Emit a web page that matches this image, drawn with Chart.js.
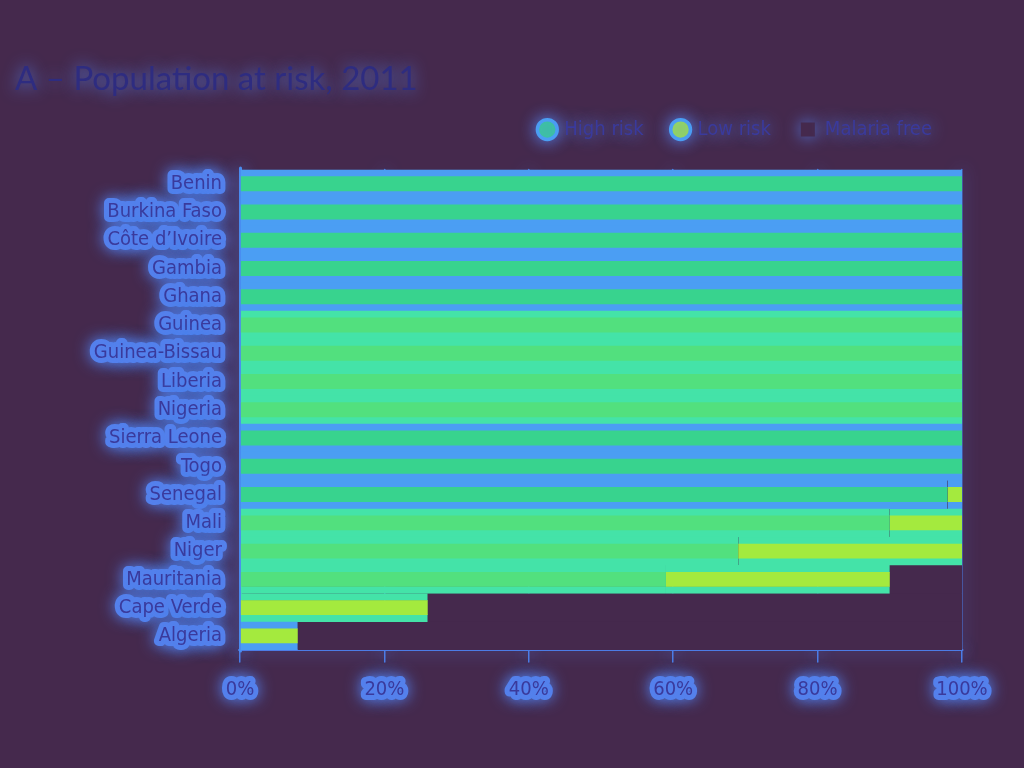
<!DOCTYPE html>
<html>
<head>
<meta charset="utf-8">
<script src="https://cdn.jsdelivr.net/npm/chart.js@4.4.1/dist/chart.umd.min.js"></script>
<style>
  html, body { margin: 0; padding: 0; background: #45294d; }
  #wrap { width: 1024px; height: 768px; }
</style>
</head>
<body>
<div id="wrap"><canvas id="myChart" width="1024" height="768"></canvas></div>
<script>
const countries = ['Benin', 'Burkina Faso', 'Côte d\u2019Ivoire', 'Gambia', 'Ghana', 'Guinea', 'Guinea-Bissau',
  'Liberia', 'Nigeria', 'Sierra Leone', 'Togo', 'Senegal', 'Mali', 'Niger', 'Mauritania', 'Cape Verde', 'Algeria'];
const highRisk    = [100, 100, 100, 100, 100, 100, 100, 100, 100, 100, 100, 98, 90, 69, 59, 0, 0];
const lowRisk     = [0, 0, 0, 0, 0, 0, 0, 0, 0, 0, 0, 2, 10, 31, 31, 26, 8];
const malariaFree = [0, 0, 0, 0, 0, 0, 0, 0, 0, 0, 0, 0, 0, 0, 10, 74, 92];
const xTicks = [0, 20, 40, 60, 80, 100];

// styles
const bg = '#45294d';
const glow = '#5581ec';
const ink = '#3a3a9c';
const narrow = '"Liberation Sans Narrow", "DejaVu Sans Condensed", sans-serif';
// blue stripes between bars on some rows, aqua on the others
const warmRows = [5, 6, 7, 8, 12, 13, 14, 15];
const gapColors = countries.map((c, i) => warmRows.includes(i) ? '#44e3a8' : '#4b9ef3');
const highColors = countries.map((c, i) => warmRows.includes(i) ? '#52e07e' : '#38d38e');

const ctx = document.getElementById('myChart');

const glowPlugin = {
  id: 'glow',
  afterInit: (chart) => {
    // leave some room between the legend and the plot
    const lg = chart.legend;
    const fit = lg.fit;
    lg.fit = function () { fit.call(this); this.height += 20; };
  },
  beforeDraw: (chart) => {
    const c = chart.ctx;
    c.save();
    c.fillStyle = bg;
    c.fillRect(0, 0, chart.width, chart.height);
    c.restore();
    c.shadowColor = glow;
    c.shadowBlur = 16;
    c.lineJoin = 'round';
    c.lineCap = 'round';
  },
  beforeDatasetsDraw: (chart) => {
    chart.ctx.shadowBlur = 0;
    chart.ctx.shadowColor = 'rgba(0,0,0,0)';
  }
};

const stripe = {top: 7, bottom: 7, left: 0, right: 0};

new Chart(ctx, {
  type: 'bar',
  data: {
    labels: countries,
    datasets: [
      {
        label: 'High risk',
        data: highRisk,
        backgroundColor: highColors,
        borderColor: gapColors,
        borderWidth: stripe,
        borderSkipped: false,
        pointStyle: 'circle'
      },
      {
        label: 'Low risk',
        data: lowRisk,
        backgroundColor: '#a4ea3e',
        borderColor: gapColors,
        borderWidth: stripe,
        borderSkipped: false,
        pointStyle: 'circle'
      },
      {
        label: 'Malaria free',
        data: malariaFree,
        backgroundColor: bg,
        borderColor: bg,
        borderWidth: 0,
        pointStyle: 'rect'
      }
    ]
  },
  options: {
    indexAxis: 'y',
    responsive: false,
    animation: false,
    barPercentage: 1,
    categoryPercentage: 1,
    layout: {padding: {left: 15, right: 62, bottom: 50}},
    plugins: {
      title: {
        display: true,
        text: 'A \u2013 Population at risk, 2011',
        align: 'start',
        color: '#2e2c80',
        font: {family: 'Lato, sans-serif', size: 33, weight: 'normal'},
        padding: {top: 60, bottom: -10}
      },
      legend: {
        align: 'end',
        labels: {
          usePointStyle: true,
          boxWidth: 14,
          boxHeight: 14,
          padding: 30,
          color: ink,
          font: {family: narrow, size: 20}
        }
      },
      tooltip: {enabled: false}
    },
    scales: {
      x: {
        stacked: true,
        min: 0,
        max: 100,
        afterBuildTicks: (scale) => { scale.ticks = xTicks.map(v => ({value: v})); },
        ticks: {
          callback: (v) => v + '%',
          color: ink,
          padding: 16,
          font: {family: narrow, size: 20},
          textStrokeColor: glow,
          textStrokeWidth: 10
        },
        grid: {color: '#4c7ce6', lineWidth: 1.5, tickLength: 12},
        border: {display: true, color: '#4c7ce6', width: 2}
      },
      y: {
        stacked: true,
        afterFit: (scale) => { scale.width = 225; },
        ticks: {
          color: ink,
          padding: 10,
          font: {family: narrow, size: 20},
          textStrokeColor: glow,
          textStrokeWidth: 10
        },
        grid: {display: false},
        border: {display: true, color: '#4a8cf0', width: 3}
      }
    }
  },
  plugins: [glowPlugin]
});
</script>
</body>
</html>
